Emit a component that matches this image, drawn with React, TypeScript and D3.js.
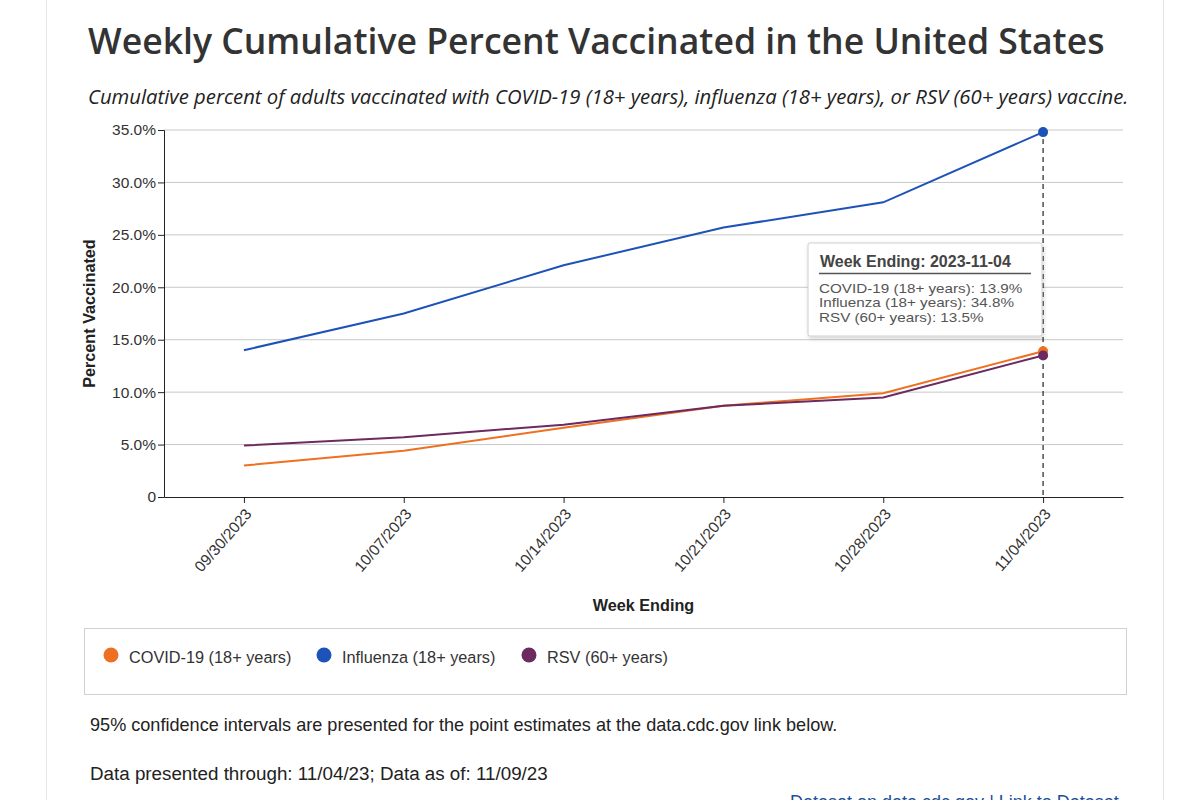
import React, { useEffect, useRef } from 'react';
import * as d3 from 'd3';

const weeks = ['09/30/2023', '10/07/2023', '10/14/2023', '10/21/2023', '10/28/2023', '11/04/2023'];
const covid = [3.0, 4.4, 6.6, 8.7, 9.9, 13.9];
const influenza = [14.0, 17.5, 22.1, 25.7, 28.1, 34.8];
const rsv = [4.9, 5.7, 6.9, 8.7, 9.5, 13.5];
const yTicks = [0, 5, 10, 15, 20, 25, 30, 35];

const seriesNames = ['COVID-19 (18+ years)', 'Influenza (18+ years)', 'RSV (60+ years)'];
const seriesColors = ['#ee7121', '#1d53b8', '#6c2a60'];

const App: React.FC = () => {
  const ref = useRef<SVGSVGElement>(null);

  useEffect(() => {
    if (!ref.current) return;
    const svg = d3.select(ref.current);
    svg.selectAll('*').remove();

    const sans = '"Liberation Sans", Arial, sans-serif';
    const open = '"Open Sans", sans-serif';

    // card edges
    svg.append('line').attr('x1', 46.5).attr('x2', 46.5).attr('y1', 0).attr('y2', 800).attr('stroke', '#e6e6e6');
    svg.append('line').attr('x1', 1163.5).attr('x2', 1163.5).attr('y1', 0).attr('y2', 800).attr('stroke', '#e6e6e6');

    svg
      .append('text')
      .attr('x', 88)
      .attr('y', 54)
      .style('font-family', open)
      .style('font-size', '35.6px')
      .style('font-weight', 600)
      .attr('fill', '#333')
      .text('Weekly Cumulative Percent Vaccinated in the United States');

    svg
      .append('text')
      .attr('x', 88)
      .attr('y', 104)
      .style('font-family', open)
      .style('font-size', '20.3px')
      .style('font-style', 'italic')
      .attr('fill', '#222')
      .text('Cumulative percent of adults vaccinated with COVID-19 (18+ years), influenza (18+ years), or RSV (60+ years) vaccine.');

    const left = 164;
    const right = 1123;
    const top = 130;
    const bottom = 497;

    const x = d3.scalePoint<string>().domain(weeks).range([left, right]).padding(0.5);
    const y = d3.scaleLinear().domain([0, 35]).range([bottom, top]);

    // gridlines
    svg
      .append('g')
      .selectAll('line')
      .data(yTicks.filter((t) => t > 0))
      .enter()
      .append('line')
      .attr('x1', left)
      .attr('x2', right)
      .attr('y1', (d) => y(d))
      .attr('y2', (d) => y(d))
      .attr('stroke', '#c8c8c8')
      .attr('stroke-width', 1);

    const yAxis = svg
      .append('g')
      .attr('transform', `translate(${left},0)`)
      .call(
        d3
          .axisLeft(y)
          .tickValues(yTicks)
          .tickSize(6)
          .tickFormat((d) => (+d === 0 ? '0' : `${(+d).toFixed(1)}%`))
      );
    yAxis.select('.domain').attr('stroke', '#222');
    yAxis.selectAll('.tick line').attr('stroke', '#222');
    yAxis
      .selectAll('.tick text')
      .style('font-family', sans)
      .style('font-size', '15.5px')
      .attr('fill', '#333')
      .attr('x', -8);

    const xAxis = svg
      .append('g')
      .attr('transform', `translate(0,${bottom})`)
      .call(d3.axisBottom(x).tickSize(6).tickSizeOuter(0));
    xAxis.select('.domain').attr('stroke', '#222');
    xAxis.selectAll('.tick line').attr('stroke', '#222');
    xAxis
      .selectAll('.tick text')
      .style('font-family', sans)
      .style('font-size', '15.5px')
      .attr('fill', '#333')
      .attr('text-anchor', 'end')
      .attr('dy', '0.35em')
      .attr('transform', 'translate(4,14) rotate(-49)')
      .attr('y', 0)
      .attr('x', 0);

    svg
      .append('text')
      .attr('x', (left + right) / 2)
      .attr('y', 611)
      .attr('text-anchor', 'middle')
      .style('font-family', sans)
      .style('font-size', '16.2px')
      .style('font-weight', 'bold')
      .attr('fill', '#222')
      .text('Week Ending');

    svg
      .append('text')
      .attr('transform', `translate(95,${(top + bottom) / 2}) rotate(-90)`)
      .attr('text-anchor', 'middle')
      .style('font-family', sans)
      .style('font-size', '16.2px')
      .style('font-weight', 'bold')
      .attr('fill', '#222')
      .text('Percent Vaccinated');

    // hover guide
    const lastWeek = weeks[weeks.length - 1];
    svg
      .append('line')
      .attr('x1', x(lastWeek)!)
      .attr('x2', x(lastWeek)!)
      .attr('y1', top)
      .attr('y2', bottom)
      .attr('stroke', '#222')
      .attr('stroke-width', 1.2)
      .attr('stroke-dasharray', '5,4');

    const series = [covid, influenza, rsv];
    const line = d3
      .line<number>()
      .x((_d, i) => x(weeks[i])!)
      .y((d) => y(d));

    // draw influenza, covid, then rsv on top
    [1, 0, 2].forEach((si) => {
      svg
        .append('path')
        .datum(series[si])
        .attr('d', line)
        .attr('fill', 'none')
        .attr('stroke', seriesColors[si])
        .attr('stroke-width', 2);
    });
    [1, 0, 2].forEach((si) => {
      const vals = series[si];
      svg
        .append('circle')
        .attr('cx', x(lastWeek)!)
        .attr('cy', y(vals[vals.length - 1]))
        .attr('r', 5)
        .attr('fill', seriesColors[si]);
    });

    // tooltip
    const tip = svg.append('g').attr('transform', 'translate(808,243)');
    const defs = svg.append('defs');
    const filter = defs.append('filter').attr('id', 'tipShadow').attr('x', '-10%').attr('y', '-10%').attr('width', '130%').attr('height', '140%');
    filter.append('feDropShadow').attr('dx', 1).attr('dy', 2).attr('stdDeviation', 2).attr('flood-color', '#000').attr('flood-opacity', 0.18);
    tip
      .append('rect')
      .attr('width', 234)
      .attr('height', 93)
      .attr('rx', 2)
      .attr('fill', '#fff')
      .attr('stroke', '#cfcfcf')
      .attr('filter', 'url(#tipShadow)');
    tip
      .append('text')
      .attr('x', 12)
      .attr('y', 24)
      .style('font-family', sans)
      .style('font-size', '16px')
      .style('font-weight', 'bold')
      .attr('fill', '#444')
      .text('Week Ending: 2023-11-04');
    tip.append('line').attr('x1', 11).attr('x2', 223).attr('y1', 30.5).attr('y2', 30.5).attr('stroke', '#555').attr('stroke-width', 1.5);
    const tipLines = tip.append('g').attr('transform', 'translate(11,0) scale(1.12,1)');
    seriesNames.forEach((name, i) => {
      const vals = series[i];
      tipLines
        .append('text')
        .attr('x', 0)
        .attr('y', 50 + i * 14.5)
        .style('font-family', sans)
        .style('font-size', '13.6px')
        .attr('fill', '#555')
        .text(`${name}: ${vals[vals.length - 1].toFixed(1)}%`);
    });

    // legend
    svg.append('rect').attr('x', 84.5).attr('y', 628.5).attr('width', 1042).attr('height', 66).attr('fill', '#fff').attr('stroke', '#d0d0d0');
    const legendX = [111, 324, 529];
    seriesNames.forEach((name, i) => {
      svg.append('circle').attr('cx', legendX[i]).attr('cy', 655).attr('r', 7.5).attr('fill', seriesColors[i]);
      svg
        .append('text')
        .attr('x', legendX[i] + 18)
        .attr('y', 663)
        .style('font-family', sans)
        .style('font-size', '16.3px')
        .attr('fill', '#333')
        .text(name);
    });

    svg
      .append('text')
      .attr('x', 90)
      .attr('y', 731)
      .style('font-family', sans)
      .style('font-size', '18.1px')
      .attr('fill', '#222')
      .text('95% confidence intervals are presented for the point estimates at the data.cdc.gov link below.');
    svg
      .append('text')
      .attr('x', 90)
      .attr('y', 780)
      .style('font-family', sans)
      .style('font-size', '18.8px')
      .attr('fill', '#222')
      .text('Data presented through: 11/04/23; Data as of: 11/09/23');
    svg
      .append('text')
      .attr('x', 790)
      .attr('y', 808)
      .style('font-family', sans)
      .style('font-size', '18px')
      .attr('fill', '#1a4f9c')
      .text('Dataset on data.cdc.gov | Link to Dataset');
  }, []);

  return (
    <div style={{ position: 'absolute', left: 0, top: 0, width: 1200, height: 800, background: '#fff', overflow: 'hidden' }}>
      <svg ref={ref} width={1200} height={800} style={{ display: 'block' }} />
    </div>
  );
};

export default App;
